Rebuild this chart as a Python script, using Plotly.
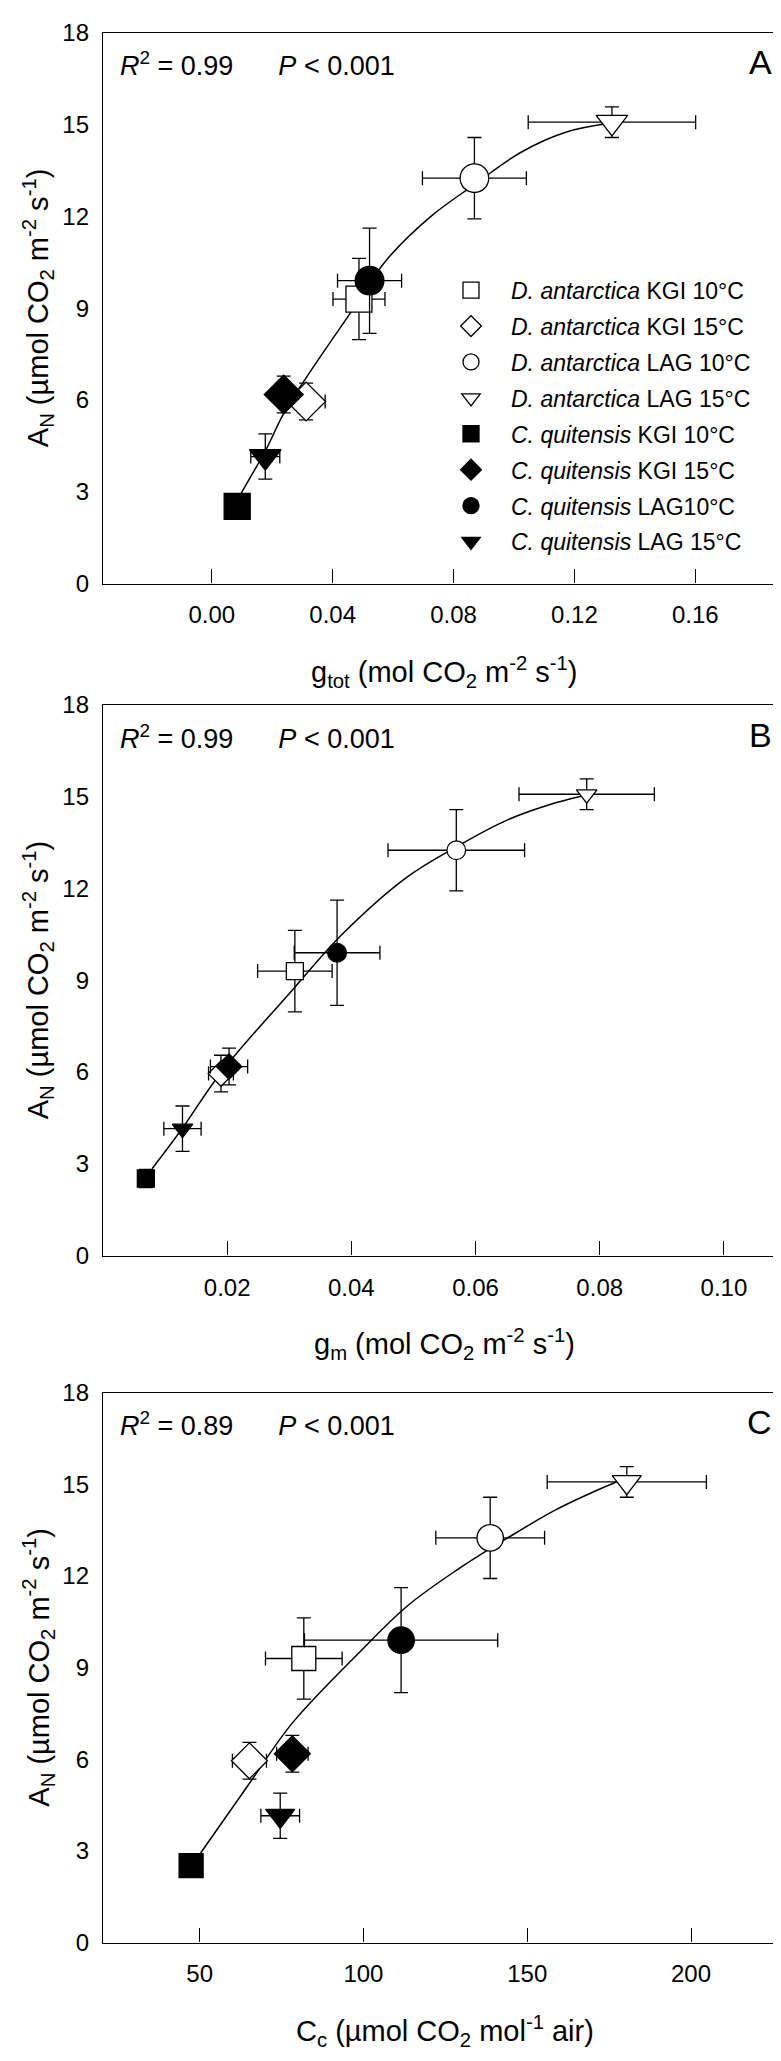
import plotly.graph_objects as go

W, H = 781, 2061

# ---------------- data ----------------
groups = ["<i>D. antarctica</i> KGI 10°C", "<i>D. antarctica</i> KGI 15°C",
          "<i>D. antarctica</i> LAG 10°C", "<i>D. antarctica</i> LAG 15°C",
          "<i>C. quitensis</i> KGI 10°C", "<i>C. quitensis</i> KGI 15°C",
          "<i>C. quitensis</i> LAG10°C", "<i>C. quitensis</i> LAG 15°C"]
symbols = ["square", "diamond", "circle", "triangle-down",
           "square", "diamond", "circle", "triangle-down"]
fills = ["white"] * 4 + ["black"] * 4

AN = [9.3, 5.95, 13.25, 15.08, 2.52, 6.18, 9.9, 4.15]
AN_err = [1.33, 0.6, 1.33, 0.5, 0.3, 0.6, 1.72, 0.74]

gtot = [0.0487, 0.0312, 0.0869, 0.1324, 0.0084, 0.0238, 0.0522, 0.0177]
gtot_err = [0.0086, 0.0063, 0.0172, 0.0277, 0.0005, 0.002, 0.0106, 0.0048]

gm = [0.0309, 0.019, 0.0569, 0.0779, 0.0069, 0.0203, 0.0377, 0.0128]
gm_err = [0.006, 0.002, 0.011, 0.0109, 0.0005, 0.003, 0.0069, 0.003]

Cc = [81.8, 65.2, 138.7, 180.4, 47.4, 78.3, 111.5, 74.6]
Cc_err = [11.7, 5.2, 16.6, 24.3, 1.0, 4.8, 29.5, 5.9]

# fitted curves
fitA_x = [0.0097, 0.018, 0.0246, 0.0477, 0.0576, 0.0725, 0.0869, 0.1022, 0.1171, 0.132]
fitA_y = [2.95, 4.39, 5.70, 9.11, 10.55, 12.0, 13.04, 14.09, 14.75, 15.05]
fitB_x = [0.0079, 0.0127, 0.0191, 0.0308, 0.0384, 0.0488, 0.0569, 0.0649, 0.0729, 0.0777]
fitB_y = [2.84, 4.14, 6.01, 8.75, 10.48, 12.35, 13.36, 14.22, 14.8, 15.05]
fitC_x = [50.3, 64.8, 78.4, 98.2, 113.4, 128.7, 143.9, 159.1, 174.3, 180.4]
fitC_y = [2.93, 5.15, 7.2, 9.44, 11.02, 12.21, 13.24, 14.19, 14.95, 15.22]

yticks = [0, 3, 6, 9, 12, 15, 18]
xticksA = [0.0, 0.04, 0.08, 0.12, 0.16]
xticksB = [0.02, 0.04, 0.06, 0.08, 0.10]
xticksC = [50, 100, 150, 200]

R2 = ["0.99", "0.99", "0.89"]
letters = ["A", "B", "C"]
xtitles = ["g<sub>tot</sub> (mol CO<sub>2</sub> m<sup>-2</sup> s<sup>-1</sup>)",
           "g<sub>m</sub> (mol CO<sub>2</sub> m<sup>-2</sup> s<sup>-1</sup>)",
           "C<sub>c</sub> (µmol CO<sub>2</sub> mol<sup>-1</sup> air)"]
ytitle = "A<sub>N</sub> (µmol CO<sub>2</sub> m<sup>-2</sup> s<sup>-1</sup>)"

# ---------------- layout geometry (pixels) ----------------
left, right = 95, 778
panels = [(11, 569), (692, 1250), (1389, 1946)]  # top, bottom in px
xranges = [[-0.036, 0.19], [0.0, 0.11], [20.5, 229]]
base_sizes = [26, 17, 24]
FONT = "Liberation Sans, Arial, sans-serif"

def py(p):
    return 1 - p / H

fig = go.Figure()

xs_list = [(gtot, gtot_err), (gm, gm_err), (Cc, Cc_err)]
fits = [(fitA_x, fitA_y), (fitB_x, fitB_y), (fitC_x, fitC_y)]

for k in range(3):
    xa = "x" if k == 0 else f"x{k+1}"
    ya = "y" if k == 0 else f"y{k+1}"
    fx, fy = fits[k]
    fig.add_trace(go.Scatter(x=fx, y=fy, mode="lines", line=dict(color="black", width=1.5, shape="spline"),
                             xaxis=xa, yaxis=ya, showlegend=False, hoverinfo="skip"))
    xv, xe = xs_list[k]
    bs = base_sizes[k]
    for i in range(8):
        sz = bs
        if symbols[i] == "diamond":
            sz = bs * 1.15
        elif symbols[i] == "triangle-down":
            sz = bs * 1.05
        elif symbols[i] == "circle":
            sz = bs * 1.1
        fig.add_trace(go.Scatter(
            x=[xv[i]], y=[AN[i]], mode="markers", name=groups[i],
            legendgroup=f"g{i}", showlegend=(k == 0),
            marker=dict(symbol=symbols[i], size=sz, color=fills[i],
                        line=dict(color="black", width=1.3)),
            error_x=dict(type="data", array=[xe[i]], color="black", thickness=1.3, width=7),
            error_y=dict(type="data", array=[AN_err[i]], color="black", thickness=1.3, width=7),
            xaxis=xa, yaxis=ya))

layout = dict(
    width=W, height=H, margin=dict(l=0, r=0, t=0, b=0),
    paper_bgcolor="white", plot_bgcolor="white",
    font=dict(family=FONT, color="black", size=24),
    showlegend=True,
    legend=dict(x=(423) / W, y=py(250), xanchor="left", yanchor="top",
                bgcolor="rgba(0,0,0,0)", font=dict(size=23, family=FONT),
                itemwidth=70, tracegroupgap=3, itemsizing="trace"),
)

tick_sets = [xticksA, xticksB, xticksC]
tick_fmt = [".2f", ".2f", "d"]
annotations = []
for k in range(3):
    top, bot = panels[k]
    xname = "xaxis" if k == 0 else f"xaxis{k+1}"
    yname = "yaxis" if k == 0 else f"yaxis{k+1}"
    ya = "y" if k == 0 else f"y{k+1}"
    xa = "x" if k == 0 else f"x{k+1}"
    layout[xname] = dict(domain=[left / W, right / W], range=xranges[k], anchor=ya,
                         showline=True, linecolor="black", linewidth=1.3, mirror=True,
                         ticks="inside", ticklen=14, tickwidth=1.3, tickcolor="black",
                         tickvals=tick_sets[k], tickformat=tick_fmt[k],
                         showgrid=False, zeroline=False, ticklabelstandoff=10,
                         tickfont=dict(size=24, family=FONT))
    layout[yname] = dict(domain=[py(bot), py(top)], range=[0, 18], anchor=xa,
                         showline=True, linecolor="black", linewidth=1.3, mirror=True,
                         ticks="", tickvals=yticks, showgrid=False, zeroline=False,
                         ticklabelstandoff=8, tickfont=dict(size=24, family=FONT))
    # stats text
    annotations.append(dict(xref="paper", yref="paper", x=110 / W, y=py(top + 32),
                            xanchor="left", yanchor="middle", showarrow=False,
                            text=f"<i>R</i><sup>2</sup> = {R2[k]}      <i>P</i> < 0.001",
                            font=dict(size=27, family=FONT)))
    annotations.append(dict(xref="paper", yref="paper", x=(right - 12) / W, y=py(top + 30),
                            xanchor="right", yanchor="middle", showarrow=False,
                            text=letters[k], font=dict(size=34, family=FONT)))
    annotations.append(dict(xref="paper", yref="paper", x=(left + right) / 2 / W, y=py(bot + 90),
                            xanchor="center", yanchor="middle", showarrow=False,
                            text=xtitles[k], font=dict(size=29, family=FONT)))
    annotations.append(dict(xref="paper", yref="paper", x=30 / W, y=py((top + bot) / 2),
                            xanchor="center", yanchor="middle", showarrow=False, textangle=-90,
                            text=ytitle, font=dict(size=29, family=FONT)))

layout["annotations"] = annotations
fig.update_layout(**layout)
fig.write_html("out.html")
